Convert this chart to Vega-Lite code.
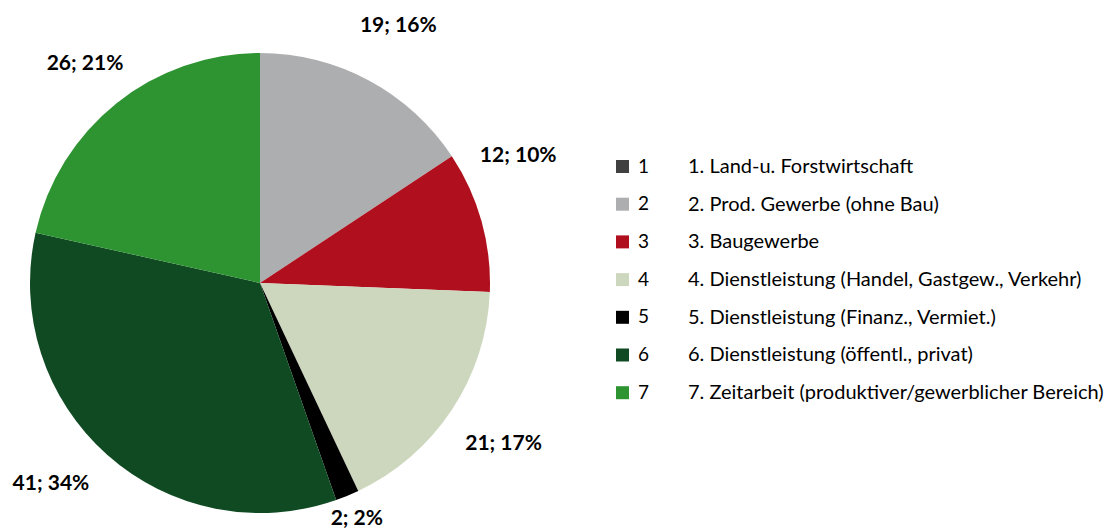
{
  "$schema": "https://vega.github.io/schema/vega-lite/v6.json",
  "padding": 0,
  "spacing": 168,
  "bounds": "flush",
  "background": "white",
  "config": {"view": {"stroke": null}, "font": "Lato"},
  "data": {"values": [
    {"cat": "1", "value": 0, "lbl": "0; 0%", "desc": "1.  Land-u. Forstwirtschaft"},
    {"cat": "2", "value": 19, "lbl": "19; 16%", "desc": "2. Prod. Gewerbe (ohne Bau)"},
    {"cat": "3", "value": 12, "lbl": "12; 10%", "desc": "3. Baugewerbe"},
    {"cat": "4", "value": 21, "lbl": "21; 17%", "desc": "4. Dienstleistung (Handel, Gastgew., Verkehr)"},
    {"cat": "5", "value": 2, "lbl": "2; 2%", "desc": "5. Dienstleistung (Finanz., Vermiet.)"},
    {"cat": "6", "value": 41, "lbl": "41; 34%", "desc": "6. Dienstleistung (öffentl., privat)"},
    {"cat": "7", "value": 26, "lbl": "26; 21%", "desc": "7. Zeitarbeit (produktiver/gewerblicher Bereich)"}
  ]},
  "hconcat": [
    {
      "width": 520,
      "height": 566,
      "encoding": {
        "theta": {"field": "value", "type": "quantitative", "stack": true},
        "order": {"field": "cat", "type": "ordinal"}
      },
      "layer": [
        {
          "mark": {"type": "arc", "radius": 230},
          "encoding": {
            "color": {
              "field": "cat", "type": "nominal",
              "scale": {"domain": ["1","2","3","4","5","6","7"], "range": ["#404040","#ADAEB0","#B0101E","#CDD7BD","#000000","#0F4A22","#2E9331"]},
              "legend": {
                "title": null, "orient": "none", "legendX": 613, "legendY": 157,
                "symbolType": "square", "symbolSize": 169, "symbolStrokeWidth": 0,
                "labelFontSize": 19, "labelFont": "Lato", "labelColor": "#000000",
                "labelOffset": 6, "rowPadding": 17.7, "padding": 0
              }
            }
          }
        },
        {
          "transform": [{"filter": "datum.value > 0"}],
          "mark": {
            "type": "text", "fontWeight": "bold", "fontSize": 21, "font": "Lato", "color": "#000000",
            "radius": {"expr": "datum.cat == '5' ? 255 : datum.cat == '7' ? 280 : 292"},
            "dx": {"expr": "datum.cat == '3' ? -23 : datum.cat == '6' ? -15 : 0"},
            "dy": {"expr": "datum.cat == '3' ? -48 : datum.cat == '6' ? -17 : 0"}
          },
          "encoding": {"text": {"field": "lbl"}}
        }
      ]
    },
    {
      "width": 417,
      "height": 566,
      "mark": {"type": "text", "align": "left", "baseline": "middle", "fontSize": 20, "font": "Lato", "color": "#000000"},
      "encoding": {
        "y": {"field": "cat", "type": "ordinal", "scale": {"type": "point", "range": [167, 393], "padding": 0}, "axis": null},
        "x": {"value": 0},
        "text": {"field": "desc"}
      }
    }
  ]
}
